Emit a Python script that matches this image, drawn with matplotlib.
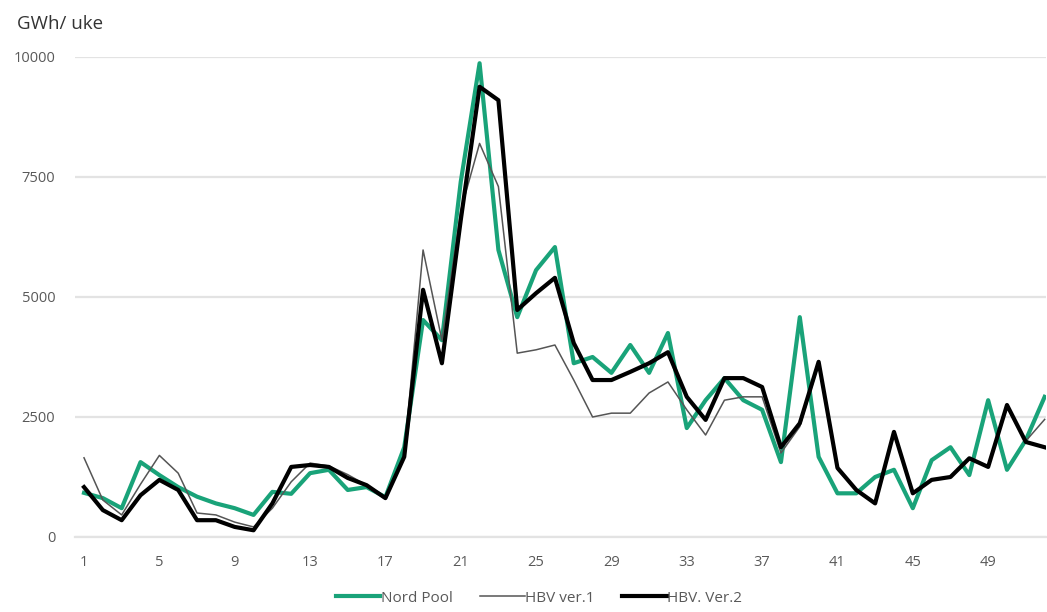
import matplotlib
matplotlib.use("Agg")
import matplotlib.pyplot as plt

weeks = list(range(1, 53))

nord_pool = [920, 810, 600, 1560, 1290, 1040, 840, 700, 600, 460,
             940, 900, 1330, 1400, 980, 1040, 830, 1870, 4520, 4100,
             7400, 9870, 5980, 4580, 5560, 6040, 3620, 3750, 3420, 4000,
             3420, 4250, 2270, 2850, 3310, 2850, 2650, 1560, 4580, 1670,
             910, 910, 1250, 1400, 600, 1600, 1870, 1290, 2850, 1400,
             2020, 2920]

hbv_ver1 = [1650, 770, 460, 1100, 1700, 1330, 500, 460, 310, 210,
            600, 1150, 1540, 1480, 1300, 1080, 800, 1700, 5980, 4100,
            6800, 8200, 7300, 3830, 3900, 4000, 3270, 2500, 2580, 2580,
            3000, 3230, 2650, 2125, 2850, 2920, 2920, 1750, 2300, 3600,
            1400, 980, 700, 2150, 910, 1190, 1250, 1620, 1460, 2700,
            2000, 2450]

hbv_ver2 = [1040, 560, 350, 870, 1190, 980, 350, 350, 210, 140,
            700, 1460, 1500, 1460, 1230, 1080, 810, 1670, 5150, 3620,
            6600, 9380, 9100, 4730, 5080, 5400, 4040, 3270, 3270, 3440,
            3620, 3850, 2920, 2440, 3310, 3310, 3125, 1870, 2370, 3650,
            1440, 980, 700, 2190, 910, 1190, 1250, 1640, 1460, 2750,
            1980, 1870]

x_ticks = list(range(1, 53, 4))
y_ticks = [0, 2500, 5000, 7500, 10000]

green = "#19a379"
text_col = "#595959"
grid_col = "#e3e3e3"

plt.rcParams["font.family"] = ["Open Sans", "DejaVu Sans"]

fig = plt.figure(figsize=(10.47, 6.12), dpi=100)
ax = fig.add_axes([74.6 / 1047, 75 / 612, 971 / 1047, 480 / 612])

ax.plot(weeks, nord_pool, color=green, lw=3.0, label="Nord Pool", zorder=3)
ax.plot(weeks, hbv_ver1, color="#555555", lw=1.1, label="HBV ver.1", zorder=4)
ax.plot(weeks, hbv_ver2, color="#000000", lw=3.0, label="HBV. Ver.2", zorder=5)

ax.set_xlim(0.5, 52.05)
ax.set_ylim(0, 10000)
ax.set_xticks(x_ticks)
ax.set_yticks(y_ticks)
ax.grid(axis="y", color=grid_col, lw=1.6)
ax.set_axisbelow(True)
for s in ["top", "right", "left"]:
    ax.spines[s].set_visible(False)
ax.spines["bottom"].set_color(grid_col)
ax.spines["bottom"].set_linewidth(1.6)
ax.tick_params(axis="both", length=0, colors=text_col, labelsize=10.5)
ax.tick_params(axis="x", pad=13)
ax.tick_params(axis="y", pad=14)

fig.text(17 / 1047, 1 - 24 / 612, "GWh/ uke", fontsize=13.5, color="#333333",
         va="center", ha="left")

leg = fig.legend(loc="center", bbox_to_anchor=(0.515, 1 - 598 / 612), ncol=3,
                 frameon=False, fontsize=11, handlelength=2.9,
                 handletextpad=0.05, columnspacing=1.8)
for t in leg.get_texts():
    t.set_color(text_col)

fig.savefig("out.png", dpi=100, facecolor="white")
